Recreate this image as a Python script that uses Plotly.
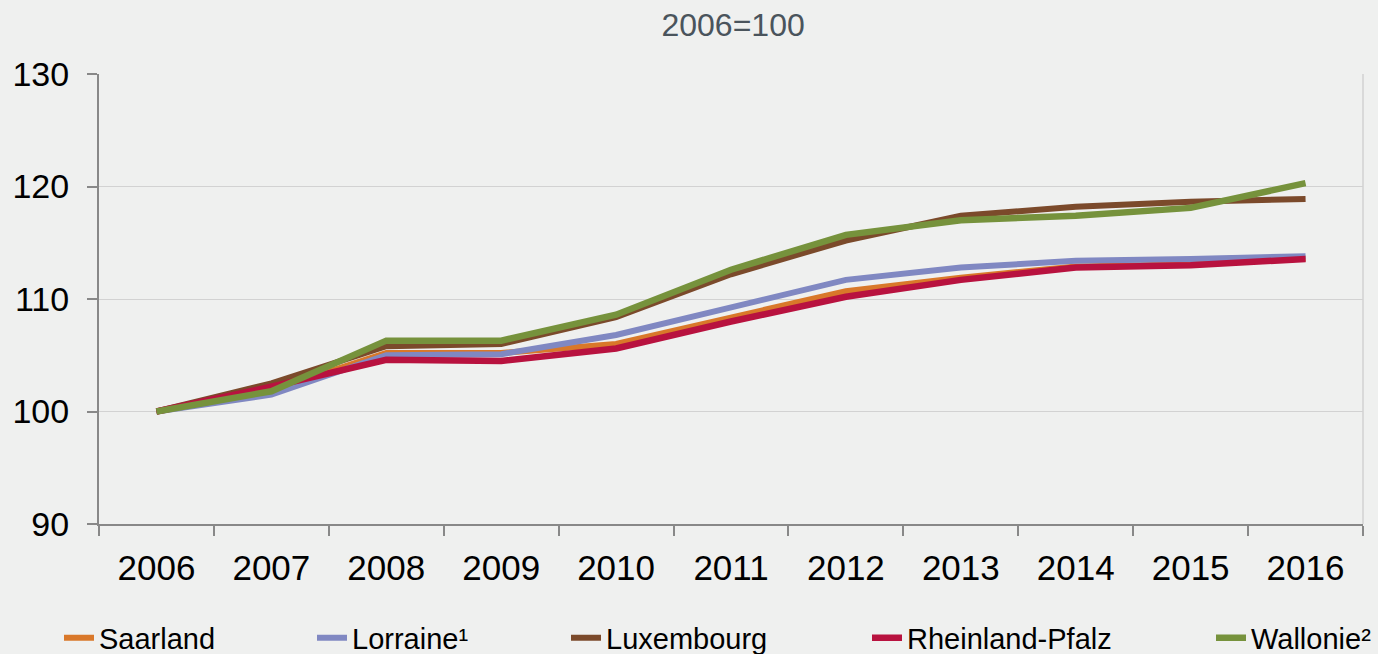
import plotly.graph_objects as go

years = ["2006", "2007", "2008", "2009", "2010", "2011", "2012", "2013", "2014", "2015", "2016"]

saarland = [100, 101.9, 105.2, 105.2, 106.0, 108.4, 110.7, 111.9, 112.9, 113.1, 113.6]
lorraine = [100, 101.5, 105.0, 105.1, 106.8, 109.3, 111.7, 112.8, 113.4, 113.55, 113.8]
luxembourg = [100, 102.5, 105.8, 106.0, 108.4, 112.2, 115.2, 117.4, 118.2, 118.65, 118.9]
rheinland_pfalz = [100, 102.2, 104.6, 104.5, 105.6, 108.0, 110.2, 111.7, 112.8, 113.0, 113.55]
wallonie = [100, 101.8, 106.3, 106.3, 108.6, 112.6, 115.7, 117.0, 117.4, 118.1, 120.3]

series = [
    ("Saarland", saarland, "#D9782A", 6),
    ("Lorraine¹", lorraine, "#8088C2", 6),
    ("Luxembourg", luxembourg, "#7B4A2B", 6),
    ("Rheinland-Pfalz", rheinland_pfalz, "#B8123F", 6.5),
    ("Wallonie²", wallonie, "#76923C", 6.5),
]

W, H = 1378, 654
# where each legend text starts in the reference (px from left)
text_px = [100, 353, 607, 908, 1252]

fig = go.Figure()
legends = {}
for i, (name, vals, color, width) in enumerate(series):
    key = "legend" if i == 0 else f"legend{i + 1}"
    fig.add_trace(
        go.Scatter(
            x=years,
            y=vals,
            name=name,
            mode="lines",
            line=dict(color=color, width=width),
            legend=key,
        )
    )
    # container refs so the legends don't push the margins around
    legends[key] = dict(
        xref="container",
        yref="container",
        x=(text_px[i] - 41) / W,
        xanchor="left",
        y=(H - 638) / H,
        yanchor="middle",
        orientation="h",
        bgcolor="rgba(0,0,0,0)",
        borderwidth=0,
        font=dict(size=29, color="#000000"),
    )

fig.update_layout(
    width=W,
    height=H,
    margin=dict(l=99, r=15, t=74, b=130),
    paper_bgcolor="#EFF0EF",
    plot_bgcolor="#EFF0EF",
    font=dict(family="Liberation Sans, Arial, sans-serif", color="#000000"),
    title=dict(
        text="2006=100",
        x=0.532,
        xanchor="center",
        y=0.962,
        yanchor="middle",
        font=dict(size=32, color="#4A545C"),
    ),
    showlegend=True,
    **legends,
)

fig.update_xaxes(
    type="category",
    range=[-0.5, 10.5],
    tickson="boundaries",
    ticks="outside",
    ticklen=10,
    tickwidth=1.5,
    tickcolor="#888888",
    showline=True,
    linecolor="#888888",
    linewidth=2,
    showgrid=False,
    tickfont=dict(size=35),
    ticklabelstandoff=12,
    automargin=False,
)
fig.update_yaxes(
    range=[90, 130],
    dtick=10,
    ticks="outside",
    ticklen=10,
    tickwidth=1.5,
    tickcolor="#888888",
    showline=True,
    linecolor="#888888",
    linewidth=2,
    gridcolor="#D2D2D2",
    gridwidth=1,
    zeroline=False,
    tickfont=dict(size=34),
    ticklabelstandoff=11,
    automargin=False,
)

# thin right border of the plot area
fig.add_shape(type="line", xref="paper", yref="paper", x0=1, x1=1, y0=0, y1=1,
              line=dict(color="#D2D2D2", width=1.5))

# drop the default page margin so the figure fills the window
fig.write_html(
    "out.html",
    config={"displayModeBar": False},
    post_script="document.body.style.margin='0';document.body.style.overflow='hidden';",
)
